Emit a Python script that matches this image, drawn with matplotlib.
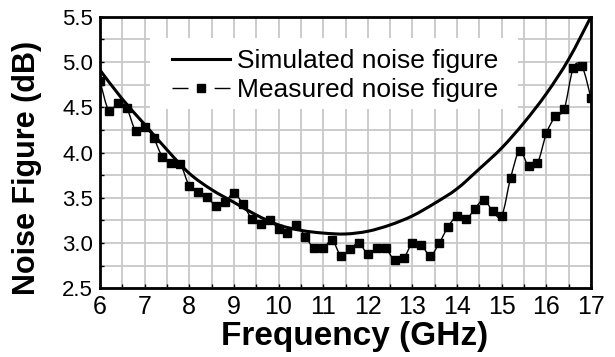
import numpy as np
import matplotlib
matplotlib.use("Agg")
import matplotlib.pyplot as plt
from matplotlib.path import Path
from matplotlib.patches import PathPatch, Rectangle
from matplotlib.lines import Line2D
from matplotlib.ticker import MultipleLocator, FormatStrFormatter

plt.rcParams["font.family"] = ["Liberation Sans", "DejaVu Sans"]

# simulated noise figure (read every 0.5 GHz)
sim_freq = [6.0, 6.5, 7.0, 7.5, 8.0, 8.5, 9.0, 9.5, 10.0, 10.5, 11.0, 11.5,
            12.0, 12.5, 13.0, 13.5, 14.0, 14.5, 15.0, 15.5, 16.0, 16.5, 17.0]
sim_nf = [4.91, 4.59, 4.31, 4.03, 3.77, 3.59, 3.45, 3.31, 3.20, 3.14, 3.11, 3.10,
          3.13, 3.20, 3.30, 3.44, 3.60, 3.82, 4.05, 4.33, 4.65, 5.03, 5.50]

# measured noise figure (0.2 GHz steps)
meas_freq = [6.0, 6.2, 6.4, 6.6, 6.8, 7.0, 7.2, 7.4, 7.6, 7.8,
             8.0, 8.2, 8.4, 8.6, 8.8, 9.0, 9.2, 9.4, 9.6, 9.8,
             10.0, 10.2, 10.4, 10.6, 10.8, 11.0, 11.2, 11.4, 11.6, 11.8,
             12.0, 12.2, 12.4, 12.6, 12.8, 13.0, 13.2, 13.4, 13.6, 13.8,
             14.0, 14.2, 14.4, 14.6, 14.8, 15.0, 15.2, 15.4, 15.6, 15.8,
             16.0, 16.2, 16.4, 16.6, 16.8, 17.0]
meas_nf = [4.79, 4.46, 4.55, 4.49, 4.24, 4.28, 4.16, 3.95, 3.88, 3.87,
           3.63, 3.56, 3.51, 3.41, 3.45, 3.55, 3.43, 3.27, 3.21, 3.25,
           3.16, 3.11, 3.20, 3.07, 2.94, 2.94, 3.03, 2.86, 2.93, 3.00,
           2.88, 2.94, 2.94, 2.81, 2.83, 3.00, 2.98, 2.86, 3.00, 3.18,
           3.30, 3.26, 3.38, 3.48, 3.35, 3.30, 3.72, 4.02, 3.85, 3.88,
           4.21, 4.40, 4.48, 4.93, 4.95, 4.60]


def smooth_path(xs, ys):
    # excel-like smoothed line: catmull-rom turned into bezier segments
    x = np.asarray(xs, float)
    y = np.asarray(ys, float)
    n = len(x)
    verts = [(x[0], y[0])]
    codes = [Path.MOVETO]
    for i in range(n - 1):
        i0 = max(i - 1, 0)
        i3 = min(i + 2, n - 1)
        c1 = (x[i] + (x[i + 1] - x[i0]) / 6, y[i] + (y[i + 1] - y[i0]) / 6)
        c2 = (x[i + 1] - (x[i3] - x[i]) / 6, y[i + 1] - (y[i3] - y[i]) / 6)
        verts += [c1, c2, (x[i + 1], y[i + 1])]
        codes += [Path.CURVE4] * 3
    return Path(verts, codes)


fig = plt.figure(figsize=(6.15, 3.57), dpi=100)
ax = fig.add_axes([100 / 615, 1 - 288.3 / 357, 491 / 615, 271.6 / 357])

ax.add_patch(PathPatch(smooth_path(sim_freq, sim_nf), fill=False,
                       edgecolor="black", lw=2.2, zorder=3))
ax.add_patch(PathPatch(smooth_path(meas_freq, meas_nf), fill=False,
                       edgecolor="black", lw=1.0, zorder=3))
ax.plot(meas_freq, meas_nf, ls="none", marker="s", ms=6, color="black", zorder=4)

ax.set_xlim(6, 17)
ax.set_ylim(2.5, 5.5)
ax.xaxis.set_major_locator(MultipleLocator(1))
ax.xaxis.set_minor_locator(MultipleLocator(0.5))
ax.yaxis.set_major_locator(MultipleLocator(0.5))
ax.yaxis.set_minor_locator(MultipleLocator(0.25))
ax.yaxis.set_major_formatter(FormatStrFormatter("%.1f"))
ax.grid(True, which="both", color="#c8c8c8", lw=1.3)
ax.set_axisbelow(True)
ax.tick_params(which="both", direction="in", length=3, width=1)
ax.tick_params(axis="x", labelsize=18, pad=5)
ax.tick_params(axis="y", labelsize=16, pad=5)
for s in ax.spines.values():
    s.set_linewidth(2)

ax.set_xlabel("Frequency (GHz)", fontsize=24, fontweight="bold")
ax.xaxis.set_label_coords(0.518, -0.12)
ax.set_ylabel("Noise Figure (dB)", fontsize=22, fontweight="bold")
ax.yaxis.set_label_coords(-0.118, 0.443)

# white block behind the legend, hides the grid there
ax.add_patch(Rectangle((0.102, 0.659), 0.749, 0.264, transform=ax.transAxes,
                       facecolor="white", edgecolor="none", zorder=2))

h_sim = Line2D([], [], color="black", lw=2.2)
h_dash = Line2D([], [], color="black", lw=1.0, ls=(0, (11.5, 18.8, 11.5, 0)))
h_mark = Line2D([], [], ls="none", marker="s", ms=6, color="black")
leg = ax.legend([h_sim, (h_dash, h_mark)],
                ["Simulated noise figure", "Measured noise figure"],
                loc="upper left", bbox_to_anchor=(0.147, 0.882), fontsize=19,
                frameon=False, handlelength=2.2, handletextpad=0.27,
                labelspacing=0.2, borderpad=0, borderaxespad=0)
leg.set_zorder(5)

fig.savefig("out.png", dpi=100)
